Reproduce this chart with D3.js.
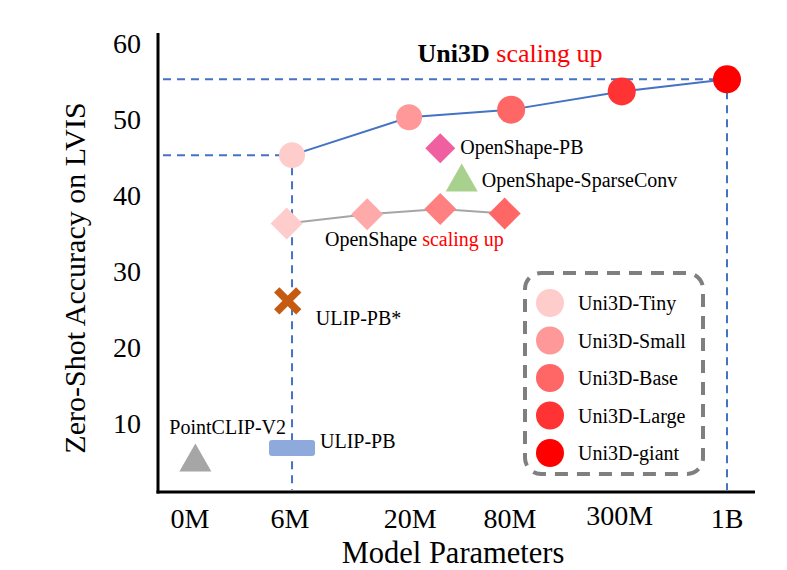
<!DOCTYPE html>
<html><head><meta charset="utf-8">
<script src="https://cdn.jsdelivr.net/npm/d3@7"></script>
<style>body{margin:0;background:#fff}svg{display:block}text{font-family:"Liberation Serif","Times New Roman",serif}</style>
</head><body><svg id="c" width="787" height="570"></svg>
<script>
// ---- data ----
const xTickLabels = ["0M","6M","20M","80M","300M","1B"];
const xTickPos = [0, 0.93, 2.05, 2.98, 4.0, 5.0];
const yTicks = [10,20,30,40,50,60];

const uni3dNames = ["Uni3D-Tiny","Uni3D-Small","Uni3D-Base","Uni3D-Large","Uni3D-giant"];
const uni3dX = [0.95, 2.04, 2.99, 4.02, 5.0];
const uni3dY = [45.3, 50.3, 51.3, 53.7, 55.3];
const uni3dColors = ["#FFCCCC","#FF9999","#FF6666","#FF3333","#FF0000"];

const openshapeX = [0.9, 1.65, 2.33, 2.93];
const openshapeY = [36.3, 37.5, 38.2, 37.6];
const openshapeColors = ["#FFCCCC","#FFAAAA","#FF8080","#FF6666"];

const others = [
  {name:"OpenShape-PB", x:2.33, y:46.2, shape:"diamond", color:"#F060A0"},
  {name:"OpenShape-SparseConv", x:2.53, y:42.1, shape:"triangle", color:"#A9D18E"},
  {name:"ULIP-PB*", x:0.91, y:26.1, shape:"cross", color:"#C55A11"},
  {name:"ULIP-PB", x:0.95, y:6.7, shape:"rect", color:"#8EA9DB"},
  {name:"PointCLIP-V2", x:0.05, y:5.2, shape:"triangle", color:"#A6A6A6"}
];

// ---- scales ----
const svg = d3.select("#c");
const x = d3.scaleLinear().domain([0,5]).range([190,727]);
const y = d3.scaleLinear().domain([0.9,61.4]).range([492,33]);
const axisLeft = 158, axisBottom = 492, axisRight = 755;
const blue = "#4472C4";

// dashed guide lines
const dash = svg.append("g").attr("stroke",blue).attr("stroke-width",2).attr("stroke-dasharray","8,6").attr("fill","none");
[0,4].forEach(i=>{
  const px = x(uni3dX[i]), py = y(uni3dY[i]);
  dash.append("line").attr("x1",axisLeft+5).attr("x2",px-12).attr("y1",py).attr("y2",py);
  dash.append("line").attr("x1",px).attr("x2",px).attr("y1",py+12).attr("y2",axisBottom-2);
});

// axes
svg.append("line").attr("x1",axisLeft).attr("x2",axisLeft).attr("y1",33).attr("y2",axisBottom+1.5).attr("stroke","#000").attr("stroke-width",3);
svg.append("line").attr("x1",axisLeft-1.5).attr("x2",axisRight).attr("y1",axisBottom).attr("y2",axisBottom).attr("stroke","#000").attr("stroke-width",3);

svg.append("g").selectAll("text").data(yTicks).join("text")
  .attr("x",141).attr("y",d=>y(d)).attr("dy","0.35em").attr("text-anchor","end")
  .attr("font-size",28).text(d=>d);
svg.append("g").selectAll("text").data(xTickLabels).join("text")
  .attr("x",(d,i)=>x(xTickPos[i])).attr("y",d=>d==="300M"?525:528).attr("text-anchor","middle")
  .attr("font-size",28).text(d=>d);

svg.append("text").attr("x",453).attr("y",563).attr("text-anchor","middle").attr("font-size",30.5).text("Model Parameters");
svg.append("text").attr("transform","translate(85,278) rotate(-90)").attr("text-anchor","middle").attr("font-size",30).text("Zero-Shot Accuracy on LVIS");

// title
const t = svg.append("text").attr("x",510).attr("y",62).attr("text-anchor","middle").attr("font-size",26);
t.append("tspan").attr("font-weight","bold").attr("fill","#000").text("Uni3D ");
t.append("tspan").attr("fill","#FF0000").text("scaling up");

// OpenShape line + diamonds
const osPts = openshapeX.map((d,i)=>[x(d), y(openshapeY[i])]);
svg.append("path").attr("d",d3.line()(osPts)).attr("stroke","#A6A6A6").attr("stroke-width",2).attr("fill","none");
const diamond = (s)=>`M0,${-s}L${s},0L0,${s}L${-s},0Z`;
svg.append("g").selectAll("path").data(osPts).join("path")
  .attr("transform",d=>`translate(${d[0]},${d[1]})`).attr("d",diamond(16))
  .attr("fill",(d,i)=>openshapeColors[i]);
const ot = svg.append("text").attr("x",325).attr("y",246).attr("font-size",20);
ot.append("tspan").attr("fill","#000").text("OpenShape ");
ot.append("tspan").attr("fill","#FF0000").text("scaling up");

// Uni3D line + circles
const uPts = uni3dX.map((d,i)=>[x(d), y(uni3dY[i])]);
svg.append("path").attr("d",d3.line()(uPts)).attr("stroke",blue).attr("stroke-width",2).attr("fill","none");
svg.append("g").selectAll("circle").data(uPts).join("circle")
  .attr("cx",d=>d[0]).attr("cy",d=>d[1]).attr("r",(d,i)=>i<2?13:14)
  .attr("fill",(d,i)=>uni3dColors[i]);

// other methods
const og = svg.append("g");
others.forEach(o=>{
  const px = x(o.x), py = y(o.y);
  const g = og.append("g").attr("transform",`translate(${px},${py})`);
  if(o.shape==="diamond"){ g.append("path").attr("d",diamond(15)).attr("fill",o.color); }
  if(o.shape==="triangle"){ g.append("path").attr("d","M0,-16L16,12L-16,12Z").attr("fill",o.color); }
  if(o.shape==="cross"){
    g.append("path").attr("d","M-11,-11L11,11M11,-11L-11,11").attr("stroke",o.color).attr("stroke-width",7.5).attr("stroke-linecap","butt");
  }
  if(o.shape==="rect"){ g.append("rect").attr("x",-23).attr("y",-8).attr("width",46).attr("height",16).attr("rx",3).attr("fill",o.color); }
});
const labels = [
  {dx:20, dy:6, idx:0},
  {dx:20, dy:8, idx:1},
  {dx:28, dy:24, idx:2},
  {dx:28, dy:0, idx:3},
  {dx:-26, dy:-25, idx:4}
];
svg.append("g").selectAll("text").data(labels).join("text")
  .attr("x",d=>x(others[d.idx].x)+d.dx).attr("y",d=>y(others[d.idx].y)+d.dy)
  .attr("text-anchor","start").attr("font-size",20).text(d=>others[d.idx].name);

// legend
const lg = svg.append("g");
lg.append("rect").attr("x",525).attr("y",273).attr("width",178).attr("height",201).attr("rx",16)
  .attr("fill","none").attr("stroke","#7F7F7F").attr("stroke-width",4).attr("stroke-dasharray","13,9");
const legY = d3.scaleLinear().domain([0,4]).range([303,453]);
const items = lg.selectAll("g.item").data(uni3dNames).join("g").attr("class","item")
  .attr("transform",(d,i)=>`translate(550,${legY(i)})`);
items.append("circle").attr("r",14).attr("fill",(d,i)=>uni3dColors[i]);
items.append("text").attr("x",28).attr("dy","0.35em").attr("font-size",20).text(d=>d);
</script></body></html>
